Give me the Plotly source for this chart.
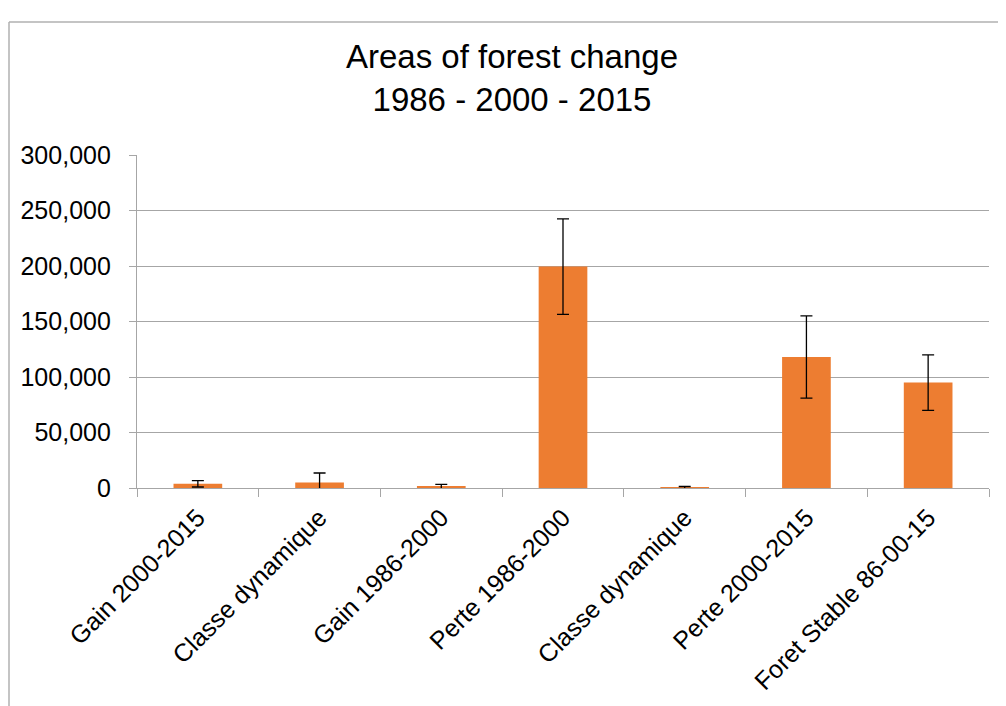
import plotly.graph_objects as go

categories = ["Gain 2000-2015", "Classe dynamique", "Gain 1986-2000", "Perte 1986-2000",
              "Classe dynamique", "Perte 2000-2015", "Foret Stable 86-00-15"]
values = [3800, 5000, 1200, 199500, 500, 118000, 95000]
errors = [2900, 8500, 2000, 43000, 900, 37000, 25000]
y_ticks = [0, 50000, 100000, 150000, 200000, 250000, 300000]

positions = list(range(len(categories)))
FONT = "Liberation Sans"
GRID = "#A6A6A6"

fig = go.Figure()
fig.add_trace(go.Bar(
    x=positions, y=values, width=0.4,
    marker=dict(color="#ED7D31", line=dict(width=0)),
    error_y=dict(type="data", array=errors, visible=True, color="black",
                 thickness=1.3, width=6),
))

fig.update_layout(
    width=1006, height=706,
    margin=dict(l=129, r=25, t=147, b=226, autoexpand=False),
    paper_bgcolor="white", plot_bgcolor="white",
    font=dict(family=FONT, color="black", size=24),
    showlegend=False,
    bargap=0.6,
    title=dict(text="Areas of forest change<br>1986 - 2000 - 2015",
               x=504 / 1006, xref="container", xanchor="center",
               y=1 - 60 / 706, yref="container", yanchor="top",
               font=dict(family=FONT, size=33, color="black")),
    xaxis=dict(range=[-0.5, 6.5], tickmode="array", tickvals=positions, ticktext=categories,
               tickangle=-45, ticks="", showgrid=False, showline=True, linecolor=GRID,
               linewidth=1.3, zeroline=False, tickfont=dict(size=25), automargin=False,
               ticklabelstandoff=4,
               minor=dict(tick0=-0.5, dtick=1, ticks="outside", ticklen=8,
                          tickcolor=GRID, tickwidth=1.3, showgrid=False)),
    yaxis=dict(range=[0, 300000], tickmode="array", tickvals=y_ticks, tickformat=",",
               showgrid=True, gridcolor=GRID, gridwidth=1.3, showline=True,
               linecolor=GRID, linewidth=1.3, ticks="outside", ticklen=7,
               tickcolor=GRID, tickwidth=1.3, zeroline=False, ticklabelstandoff=13,
               tickfont=dict(size=25), automargin=False),
    shapes=[
        dict(type="line", xref="paper", yref="paper",
             x0=(9 - 137) / 852, x1=(9 - 137) / 852, y0=(488 - 22) / 333, y1=(488 - 720) / 333,
             line=dict(color="#B0B0B0", width=1.5)),
        dict(type="line", xref="paper", yref="paper",
             x0=(9 - 137) / 852, x1=(1020 - 137) / 852, y0=(488 - 22) / 333, y1=(488 - 22) / 333,
             line=dict(color="#B0B0B0", width=1.5)),
    ],
)

fig.write_html("out.html")
